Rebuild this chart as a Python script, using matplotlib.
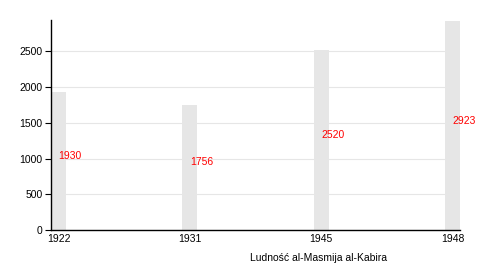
import matplotlib
matplotlib.use("Agg")
import matplotlib.pyplot as plt
import numpy as np

plt.rcParams['font.family'] = ['Liberation Sans', 'DejaVu Sans']

#### Data
years = ['1922', '1931', '1945', '1948']
population = [1930, 1756, 2520, 2923]
yticks = [0, 500, 1000, 1500, 2000, 2500]

#### Figure
fig = plt.figure(figsize=(5, 2.7), dpi=100)
ax = fig.add_axes([0.102, 0.148, 0.818, 0.778])

x = np.arange(len(years))
width = 0.115
ax.bar(x, population, width=width, color='#e6e6e6', zorder=2)

for xi, v in zip(x, population):
    ax.text(xi, v / 2, str(v), color='#ff0000', fontsize=7.5,
            ha='left', va='bottom', zorder=3)

ax.set_xlim(-width / 2, len(years) - 1 + width / 2)
ax.set_ylim(0, 2941)
ax.set_xticks(x)
ax.set_xticklabels(years)
ax.set_yticks(yticks)
ax.tick_params(axis='x', length=0, labelsize=7.5, pad=3)
ax.tick_params(axis='y', length=4, width=0.8, labelsize=7.5, pad=2)

ax.grid(axis='y', color='#e6e6e6', linewidth=0.8, zorder=0)
ax.spines['top'].set_visible(False)
ax.spines['right'].set_visible(False)
ax.spines['left'].set_linewidth(1)
ax.spines['bottom'].set_linewidth(1)

fig.text(0.5, 0.035, 'Ludność al-Masmija al-Kabira', fontsize=7.5, ha='left')

fig.savefig('out.png', dpi=100)
